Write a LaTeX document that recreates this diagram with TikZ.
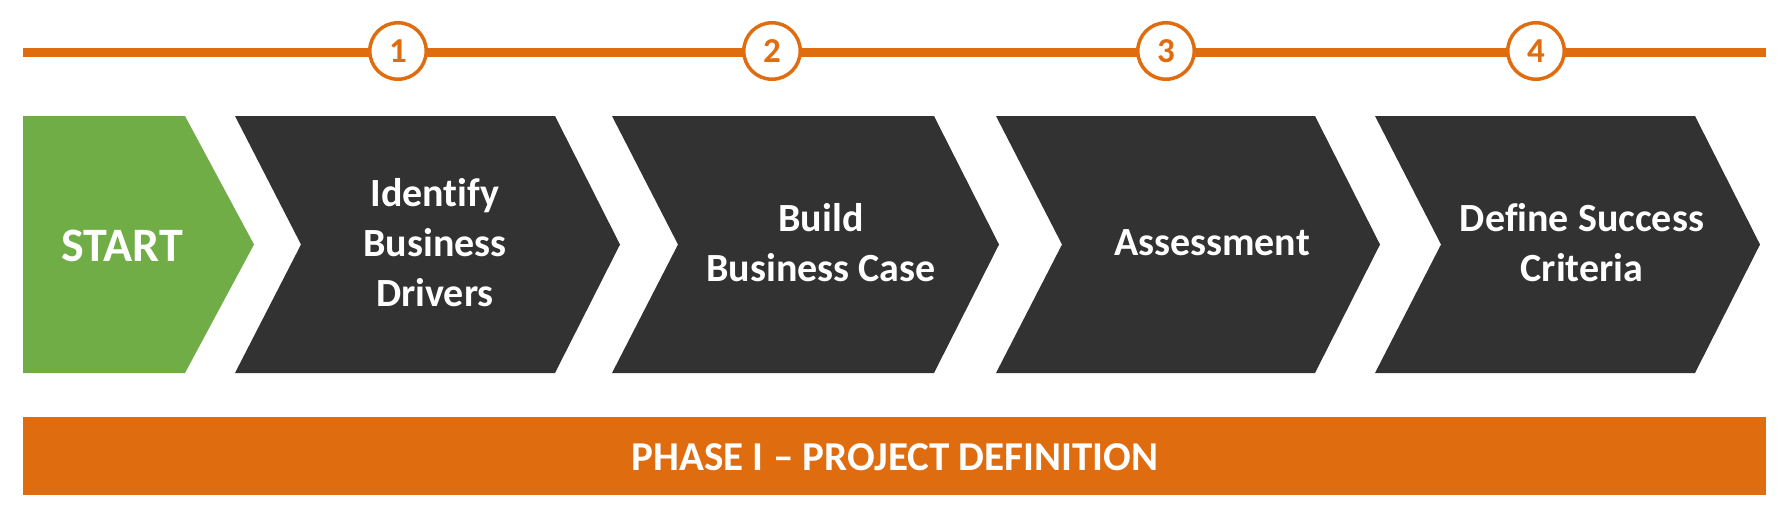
\documentclass[tikz,border=0pt]{standalone}
\usepackage{fontspec}
\setmainfont{Carlito}[Ligatures=NoCommon]
\usepackage{tikz}
\usetikzlibrary{positioning}
\definecolor{phaseorange}{HTML}{E06C10}
\definecolor{startgreen}{HTML}{70AD47}
\definecolor{stepgray}{HTML}{323232}

\begin{document}
\begin{tikzpicture}[x=1pt, y=-1pt,
  chev/.style={fill=stepgray},
  steplabel/.style={text=white, font=\bfseries\fontsize{40}{50}\selectfont, align=center, inner sep=0pt},
  numcircle/.style={circle, draw=phaseorange, line width=3.5pt, fill=white, minimum size=56.5pt, inner sep=0pt,
    text=phaseorange, font=\bfseries\fontsize{35}{35}\selectfont}]
\useasboundingbox (0,0) rectangle (1785,515);
% timeline with the numbered steps
\coordinate (tl) at (23,52);
\coordinate (tr) at (1766,52);
\draw [phaseorange, line width=9pt] (tl) -- (tr);
\foreach \x/\n in {398/1, 772/2, 1166/3, 1536/4}
  \node [numcircle] (c\n) at (\x,51) {\n};
% chevrons
\fill [startgreen] (23,116) -- (185,116) -- (254,244.5) -- (185,373) -- (23,373) -- cycle;
\foreach \l/\r in {235/555, 612/934, 996/1315, 1375/1695}
  \fill [chev] (\l,116) -- (\r,116) -- ({\r+65},244.5) -- (\r,373) -- (\l,373) -- ({\l+66},244.5) -- cycle;
\node [steplabel, font=\bfseries\fontsize{48}{48}\selectfont, anchor=base] (start) at (122,261.7) {START};
\node [steplabel] (drivers) at (435,243) {Identify\\Business\\Drivers};
\node [steplabel] (case) at (821,243) {Build\\Business Case};
\node [steplabel] (assess) at (1212,243) {Assessment};
\node [steplabel] (success) at (1582,243) {Define Success\\Criteria};
% phase bar
\fill [phaseorange] (23,417) rectangle (1766,495);
\node [text=white, font=\bfseries\fontsize{41}{41}\selectfont, anchor=base, inner sep=0pt] (phase) at (895,470) {PHASE I -- PROJECT DEFINITION};
\end{tikzpicture}
\end{document}
